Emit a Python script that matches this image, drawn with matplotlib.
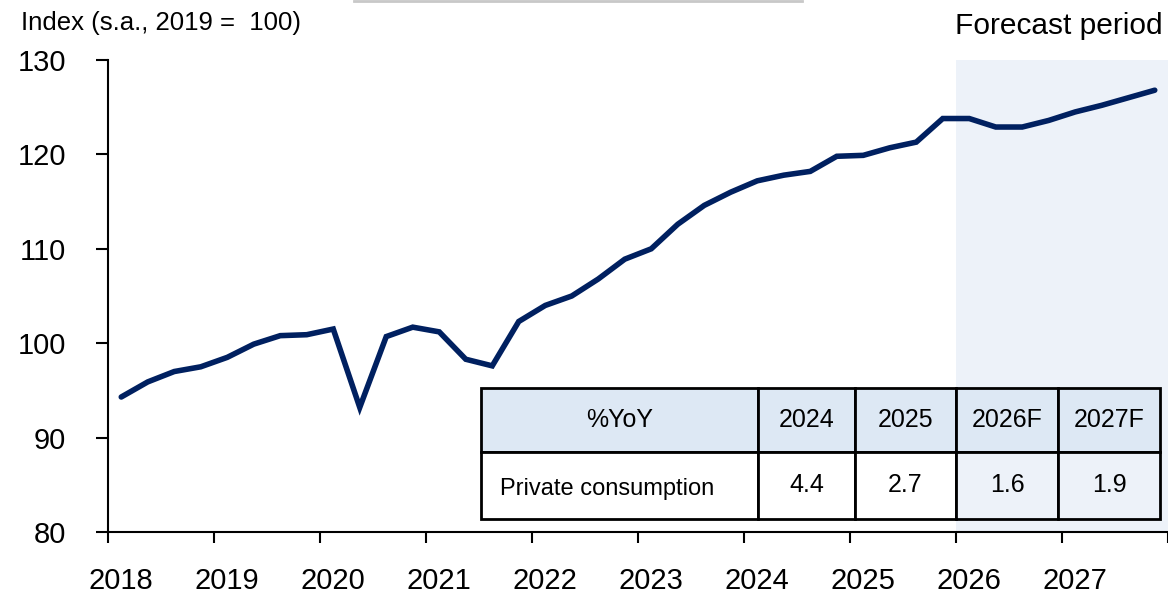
import matplotlib
matplotlib.use("Agg")
import matplotlib.pyplot as plt
from matplotlib.lines import Line2D
from matplotlib.patches import Rectangle

plt.rcParams["font.family"] = ["Liberation Sans", "DejaVu Sans"]

# Данные: квартальный индекс частного потребления (s.a., 2019 = 100)
years = list(range(2018, 2028))
index_values = [
    94.3, 95.9, 97.0, 97.5,      # 2018
    98.5, 99.9, 100.8, 100.9,    # 2019
    101.5, 93.2, 100.7, 101.7,   # 2020
    101.2, 98.3, 97.6, 102.3,    # 2021
    104.0, 105.0, 106.8, 108.9,  # 2022
    110.0, 112.6, 114.6, 116.0,  # 2023
    117.2, 117.8, 118.2, 119.8,  # 2024
    119.9, 120.7, 121.3, 123.8,  # 2025
    123.8, 122.9, 122.9, 123.6,  # 2026F
    124.5, 125.2, 126.0, 126.8,  # 2027F
]
forecast_start = 2026

# Таблица %YoY
table_cols = ["%YoY", "2024", "2025", "2026F", "2027F"]
table_row_label = "Private consumption"
table_values = ["4.4", "2.7", "1.6", "1.9"]

# Цвета
LINE_COLOR = "#002060"
SHADE_COLOR = "#EDF2F9"
HEADER_COLOR = "#DDE8F4"

W, H = 1168, 596
fig = plt.figure(figsize=(W / 100, H / 100), dpi=100)
ax = fig.add_axes([108 / W, (H - 532) / H, 1060 / W, 472 / H])

# Позиции кварталов: середина каждого квартала
x = [y + (q - 0.5) / 4 for y in years for q in range(1, 5)]

ax.axvspan(forecast_start, years[-1] + 1, color=SHADE_COLOR, lw=0, zorder=0)
ax.plot(x, index_values, color=LINE_COLOR, lw=4, solid_capstyle="round",
        solid_joinstyle="miter", zorder=3)

ax.set_xlim(years[0], years[-1] + 1)
ax.set_ylim(80, 130)
ax.set_yticks(range(80, 131, 10))
ax.set_xticks(range(years[0], years[-1] + 2))
ax.set_xticklabels([])
ax.set_xticks([y + 0.125 for y in years], minor=True)
ax.set_xticklabels([str(y) for y in years], minor=True)

ax.tick_params(axis="y", length=9, width=1.5, pad=21, labelsize=21)
ax.tick_params(axis="x", which="major", length=8, width=1.5)
ax.tick_params(axis="x", which="minor", length=0, pad=25.5, labelsize=21)

for s in ["top", "right"]:
    ax.spines[s].set_visible(False)
for s in ["left", "bottom"]:
    ax.spines[s].set_linewidth(1.5)

# Подписи
fig.text(21 / W, 1 - 23 / H, "Index (s.a., 2019 =  100)", fontsize=18.5,
         ha="left", va="center")
fig.text(1163 / W, 1 - 26 / H, "Forecast period", fontsize=21.5,
         ha="right", va="center")
fig.add_artist(Line2D([354 / W, 802 / W], [1 - 1 / H, 1 - 1 / H],
                      color="#C8C8C8", lw=2))

# Таблица (в пикселях фигуры -> доли осей)
col_edges = [481, 758, 855, 956, 1058, 1160]
row_edges = [388, 452, 519]


def fx(px):
    return (px - 108) / 1060


def fy(py):
    return (532 - py) / 472


for i in range(len(table_cols)):
    x0, x1 = fx(col_edges[i]), fx(col_edges[i + 1])
    # Заголовок
    ax.add_patch(Rectangle((x0, fy(row_edges[1])), x1 - x0,
                           fy(row_edges[0]) - fy(row_edges[1]),
                           transform=ax.transAxes, facecolor=HEADER_COLOR,
                           edgecolor="black", lw=2, zorder=4, clip_on=False))
    ax.text((x0 + x1) / 2, (fy(row_edges[0]) + fy(row_edges[1])) / 2,
            table_cols[i], transform=ax.transAxes, ha="center", va="center",
            fontsize=18, zorder=5)
    # Строка данных
    body_color = SHADE_COLOR if table_cols[i].endswith("F") else "white"
    ax.add_patch(Rectangle((x0, fy(row_edges[2])), x1 - x0,
                           fy(row_edges[1]) - fy(row_edges[2]),
                           transform=ax.transAxes, facecolor=body_color,
                           edgecolor="black", lw=2, zorder=4, clip_on=False))
    yc = (fy(row_edges[1]) + fy(row_edges[2])) / 2
    if i == 0:
        ax.text(fx(500), yc - 0.008, table_row_label, transform=ax.transAxes,
                ha="left", va="center", fontsize=17, zorder=5)
    else:
        ax.text((x0 + x1) / 2, yc, table_values[i - 1], transform=ax.transAxes,
                ha="center", va="center", fontsize=18, zorder=5)

fig.savefig("out.png", dpi=100)
